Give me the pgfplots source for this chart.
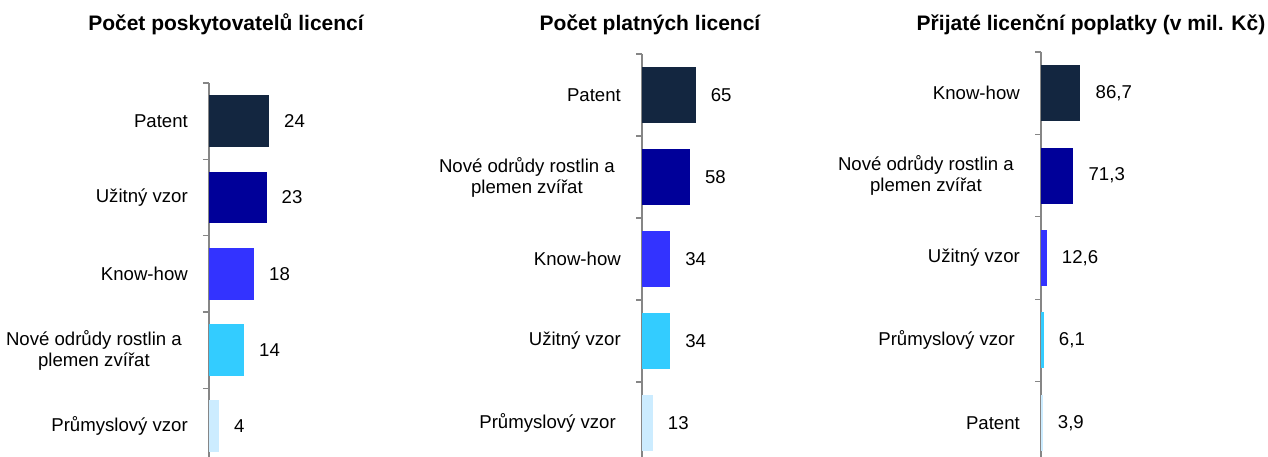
\documentclass[border=0pt]{standalone}
\usepackage{fontspec}
\setmainfont{Liberation Sans}
\usepackage{pgfplots}
\pgfplotsset{compat=1.18}
\definecolor{c1}{RGB}{19,38,64}
\definecolor{c2}{RGB}{0,0,153}
\definecolor{c3}{RGB}{51,51,255}
\definecolor{c4}{RGB}{51,204,255}
\definecolor{c5}{RGB}{204,236,255}
\definecolor{axisgray}{RGB}{134,134,134}
\pgfplotsset{
  panel/.style={
    scale only axis, xbar, bar shift=0pt, bar width=0.68,
    y dir=reverse, xmin=0, xmax=200,
    axis x line=none, axis y line*=left,
    ytick={0,1,2,3,4}, minor ytick={-0.5,0.5,1.5,2.5,3.5},
    major tick length=0pt, minor tick length=6pt, tick align=outside,
    y axis line style={-, draw=axisgray, line width=1.4pt},
    minor y tick style={draw=axisgray, line width=1.4pt},
    yticklabel style={font=\fontsize{18.6}{21}\selectfont, align=center, inner sep=0pt, xshift=-21pt},
    point meta=x,
    nodes near coords={\pgfmathprintnumber{\pgfplotspointmeta}},
    nodes near coords style={font=\fontsize{18.6}{21}\selectfont, anchor=west, inner sep=0pt, xshift=15pt, text=black},
    clip=false,
    /pgf/number format/.cd, use comma, 1000 sep={}, assume math mode=true,
  }
}
\begin{document}
\begin{tikzpicture}
\useasboundingbox (0,0) rectangle (1268pt,457pt);
% Panel 1
\begin{axis}[panel, at={(209pt,0pt)}, anchor=south west,
  width=250pt, xmax=100, height=374pt, ymin=-0.5, ymax=4.4017,
  yticklabels={Patent, Užitný vzor, Know-how, {Nové odrůdy rostlin a\kern6pt\\plemen zvířat\kern6pt}, Průmyslový vzor}]
\addplot[fill=c1, draw=none] coordinates {(24,0)};
\addplot[fill=c2, draw=none] coordinates {(23,1)};
\addplot[fill=c3, draw=none] coordinates {(18,2)};
\addplot[fill=c4, draw=none] coordinates {(14,3)};
\addplot[fill=c5, draw=none] coordinates {(4,4)};
\end{axis}
% Panel 2
\begin{axis}[panel, at={(642pt,0pt)}, anchor=south west,
  width=165.2pt, height=403pt, ymin=-0.5, ymax=4.4146,
  yticklabels={Patent, {Nové odrůdy rostlin a\kern6pt\\plemen zvířat\kern6pt}, Know-how, Užitný vzor, {Průmyslový vzor\kern5pt}}]
\addplot[fill=c1, draw=none] coordinates {(65,0)};
\addplot[fill=c2, draw=none] coordinates {(58,1)};
\addplot[fill=c3, draw=none] coordinates {(34,2)};
\addplot[fill=c4, draw=none] coordinates {(34,3)};
\addplot[fill=c5, draw=none] coordinates {(13,4)};
\end{axis}
% Panel 3
\begin{axis}[panel, at={(1041pt,0pt)}, anchor=south west,
  width=91pt, height=405pt, ymin=-0.5, ymax=4.415,
  yticklabels={Know-how, {Nové odrůdy rostlin a\kern6pt\\plemen zvířat\kern6pt}, Užitný vzor, {Průmyslový vzor\kern5pt}, Patent}]
\addplot[fill=c1, draw=none] coordinates {(86.7,0)};
\addplot[fill=c2, draw=none] coordinates {(71.3,1)};
\addplot[fill=c3, draw=none] coordinates {(12.6,2)};
\addplot[fill=c4, draw=none] coordinates {(6.1,3)};
\addplot[fill=c5, draw=none] coordinates {(3.9,4)};
\end{axis}
\node[font=\fontsize{21}{25}\selectfont\bfseries, anchor=base] at (226pt,426pt) {Počet poskytovatelů licencí};
\node[font=\fontsize{21}{25}\selectfont\bfseries, anchor=base] at (650pt,426pt) {Počet platných licencí};
\node[font=\fontsize{21}{25}\selectfont\bfseries, anchor=base] at (1091pt,426pt) {Přijaté licenční poplatky (v mil. Kč)};
\end{tikzpicture}
\end{document}
